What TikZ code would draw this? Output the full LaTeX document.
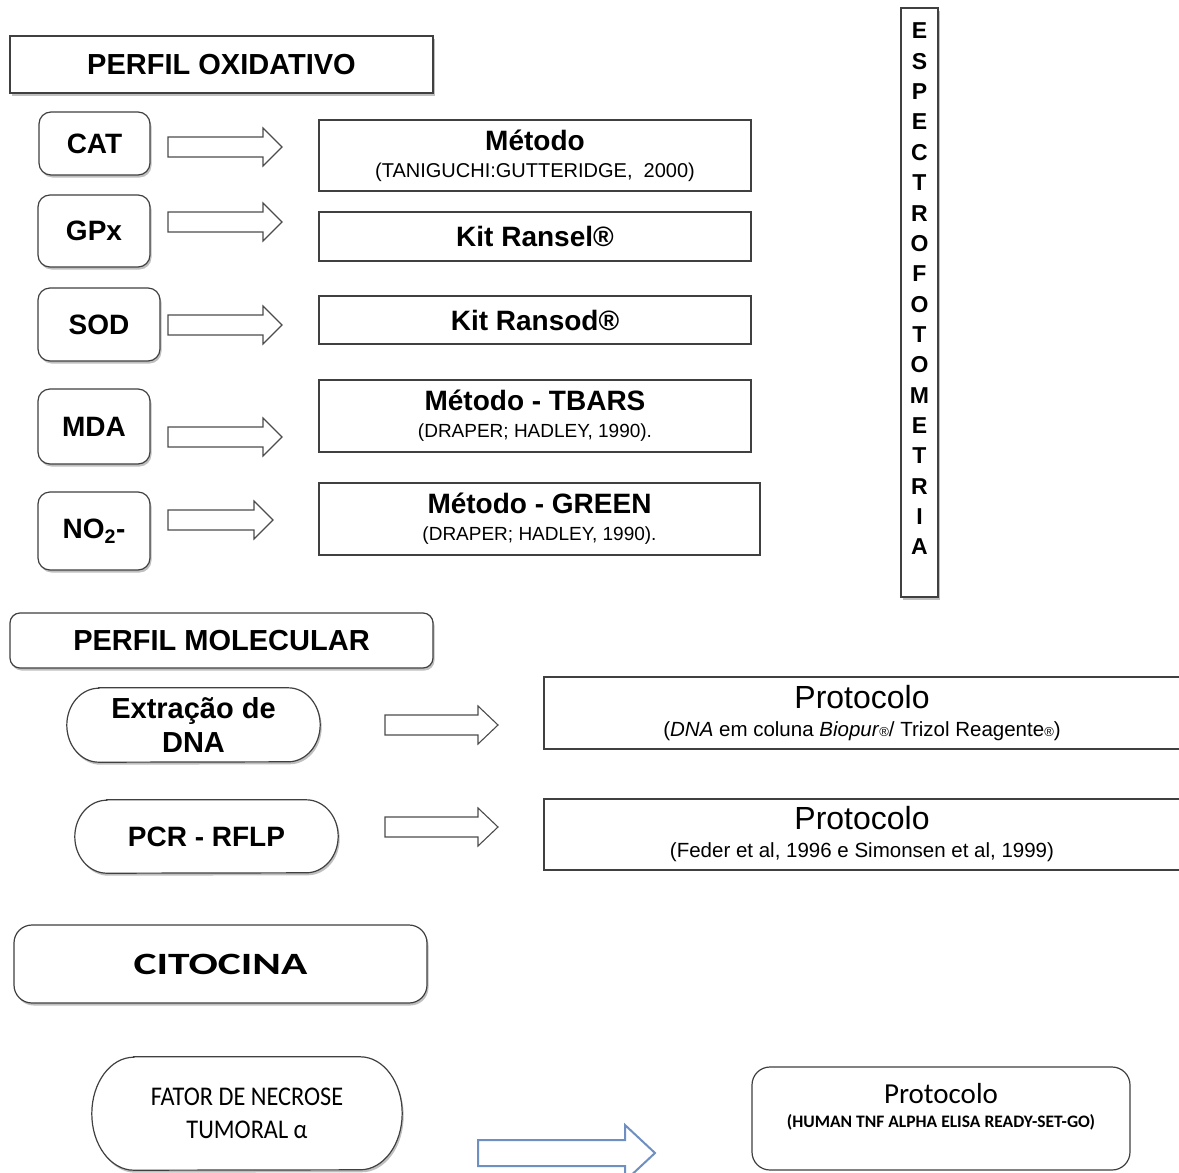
\documentclass[tikz,border=0pt]{standalone}
\usepackage{fontspec}
\setmainfont{Liberation Sans}
\newfontfamily\calfont{Carlito}
\newfontfamily\calwide[FakeStretch=1.4]{Carlito}
\newfontfamily\calnarrow[FakeStretch=0.9]{Carlito}
\usetikzlibrary{shadows,calc,backgrounds}

\newcommand{\headlbl}{\fontsize{29}{31}\selectfont\bfseries}
\newcommand{\mainlbl}{\fontsize{28}{30}\selectfont\bfseries}
\newcommand{\sublbl}{\fontsize{19}{27}\selectfont}

% hollow block arrow: [options]{x start}{x tip}{y}{shaft half}{head half}{head length}
\newcommand{\blockarrow}[7][]{%
  \draw[blockarr,#1] (#2,#4+#5) -- (#3-#7,#4+#5) -- (#3-#7,#4+#6) -- (#3,#4)
    -- (#3-#7,#4-#6) -- (#3-#7,#4-#5) -- (#2,#4-#5) -- cycle;}

% terminator outline around a node: {node}{side radius}{half height}
\newcommand{\terminal}[3]{%
  \begin{scope}[on background layer]
  \draw[termline] ($(#1.north west)+(#2,0)$) -- ($(#1.north east)+(-#2,0)$)
    arc[start angle=90,end angle=-90,x radius=#2,y radius=#3]
    -- ($(#1.south west)+(#2,0)$)
    arc[start angle=270,end angle=90,x radius=#2,y radius=#3] -- cycle;
  \end{scope}}

\tikzset{
  plainbox/.style={draw=black!75, line width=1.2pt, fill=white, inner sep=0pt, align=center},
  roundbox/.style={plainbox, rounded corners=12pt},
  boxshadow/.style={drop shadow={shadow xshift=1.5pt, shadow yshift=-2.5pt, opacity=0.25, fill=black}},
  termline/.style={draw=black!75, line width=1.2pt, fill=white, boxshadow},
  blockarr/.style={draw=black!70, line width=1.1pt, fill=white, line join=miter},
  textonly/.style={inner sep=0pt, align=center},
}
\definecolor{arrowblue}{HTML}{6F8FC0}

\begin{document}
\begin{tikzpicture}[x=1pt,y=1pt]
\useasboundingbox (0,0) rectangle (1179,-1173);
\begin{scope}[on background layer]
  \fill[white] (0,0) rectangle (1179,-1173);
\end{scope}

% ---------- oxidative profile ----------
\node[plainbox, boxshadow, minimum width=423pt, minimum height=57pt, font=\headlbl] (oxi) at (221.5,-64.5) {PERFIL OXIDATIVO};

\node[roundbox, boxshadow, minimum width=111pt, minimum height=63pt, font=\mainlbl] (cat) at (94.5,-143.5) {CAT};
\node[roundbox, boxshadow, minimum width=112pt, minimum height=72pt, font=\mainlbl] (gpx) at (94,-231) {GPx};
\node[roundbox, boxshadow, minimum width=122pt, minimum height=73pt, font=\mainlbl] (sod) at (99,-324.5) {SOD};
\node[roundbox, boxshadow, minimum width=112pt, minimum height=75pt, font=\mainlbl] (mda) at (94,-426.5) {MDA};
\node[roundbox, boxshadow, minimum width=112pt, minimum height=78pt, font=\mainlbl] (no2) at (94,-531) {NO\textsubscript{2}-};

\blockarrow{168}{282}{-147}{10}{19}{19}
\blockarrow{168}{282}{-222}{10}{19}{19}
\blockarrow{168}{282}{-325}{10}{19}{19}
\blockarrow{168}{282}{-437}{10}{19}{19}
\blockarrow{168}{273}{-520}{10}{19}{19}

\node[plainbox, minimum width=432pt, minimum height=71pt, font=\fontsize{20}{27}\selectfont] (m1) at (535,-155.5)
  {{\mainlbl Método}\\(TANIGUCHI:GUTTERIDGE,\ \ 2000)};
\node[plainbox, minimum width=432pt, minimum height=49pt, font=\mainlbl] (m2) at (535,-236.5) {Kit Ransel®};
\node[plainbox, minimum width=432pt, minimum height=48pt, font=\mainlbl] (m3) at (535,-320) {Kit Ransod®};
\node[plainbox, minimum width=432pt, minimum height=72pt, font=\sublbl] (m4) at (535,-416)
  {{\mainlbl Método - TBARS}\\(DRAPER; HADLEY, 1990).};
\node[plainbox, minimum width=441pt, minimum height=72pt, font=\sublbl] (m5) at (539.5,-519)
  {{\mainlbl Método - GREEN}\\(DRAPER; HADLEY, 1990).};

% spectrophotometry column
\node[plainbox, boxshadow, minimum width=37pt, minimum height=589pt] (esp) at (919.5,-302.5) {};
\node[textonly, font=\fontsize{23}{30.35}\selectfont\bfseries] (esptext) at (919.5,-289)
  {E\\S\\P\\E\\C\\T\\R\\O\\F\\O\\T\\O\\M\\E\\T\\R\\I\\A};

% ---------- molecular profile ----------
\node[plainbox, boxshadow, rounded corners=10pt, minimum width=423pt, minimum height=55pt, font=\headlbl] (mol) at (221.5,-640.5) {PERFIL MOLECULAR};

\node[textonly, minimum width=253pt, minimum height=74pt, font=\fontsize{29}{34}\selectfont\bfseries] (ext) at (193.5,-725) {Extração de\\DNA};
\terminal{ext}{32}{37}
\node[textonly, minimum width=263pt, minimum height=73pt, font=\mainlbl] (pcr) at (206.5,-836.5) {PCR - RFLP};
\terminal{pcr}{32}{36.5}

\blockarrow{385}{498}{-725}{10}{19}{20}
\blockarrow{385}{498}{-827}{10}{19}{20}

\node[plainbox, minimum width=636pt, minimum height=72pt, font=\fontsize{20.5}{28}\selectfont] (p1) at (862,-713)
  {{\fontsize{32}{34}\selectfont Protocolo}\\(\textit{DNA} em coluna \textit{Biopur}{\fontsize{13}{13}\selectfont®}/ Trizol Reagente{\fontsize{13}{13}\selectfont®})};
\node[plainbox, minimum width=636pt, minimum height=71pt, font=\fontsize{20.5}{28}\selectfont] (p2) at (862,-834.5)
  {{\fontsize{32}{34}\selectfont Protocolo}\\(Feder et al, 1996 e Simonsen et al, 1999)};

% ---------- cytokine ----------
\node[plainbox, boxshadow, rounded corners=18pt, minimum width=413pt, minimum height=78pt, font=\calwide\bfseries\fontsize{31}{33}\selectfont] (cito) at (220.5,-964) {CITOCINA};

\node[textonly, minimum width=310pt, minimum height=113pt, font=\calnarrow\fontsize{27}{33}\selectfont] (tnf) at (247,-1113.5) {FATOR DE NECROSE\\TUMORAL α};
\terminal{tnf}{42}{56.5}

\blockarrow[draw=arrowblue, line width=2pt]{478}{655}{-1153}{13}{28}{30}

\node[plainbox, rounded corners=18pt, minimum width=378pt, minimum height=103pt] (tnfbox) at (941,-1118.5) {};
\node[textonly, font=\calfont\bfseries\fontsize{17.5}{24}\selectfont] (tnftext) at (941,-1107)
  {{\mdseries\fontsize{29}{30}\selectfont Protocolo}\\(HUMAN TNF ALPHA ELISA READY-SET-GO)};
\end{tikzpicture}
\end{document}
